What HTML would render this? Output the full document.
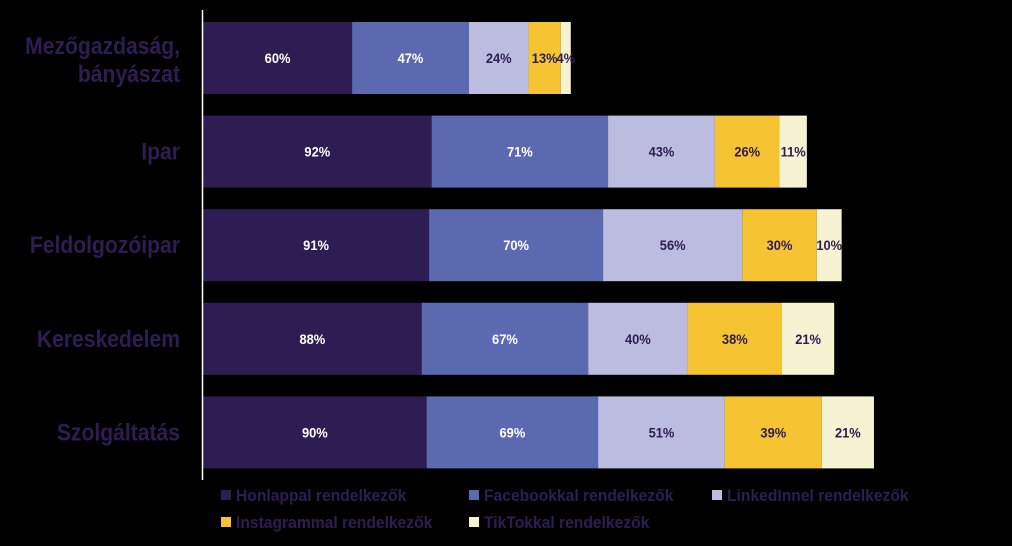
<!DOCTYPE html>
<html><head><meta charset="utf-8"><style>
html,body{margin:0;padding:0;background:#000;}
svg{display:block;font-family:"Liberation Sans",sans-serif;}
</style></head><body>
<svg id="chart" width="1012" height="546" viewBox="0 0 1012 546">
<rect width="1012" height="546" fill="#000"/>
<g id="bars"></g>
<line x1="202.5" y1="10" x2="202.5" y2="480" stroke="#fff" stroke-width="1.5"/>
<g id="legend"></g>
</svg>
<script>
const categories = [["Mezőgazdaság,","bányászat"],["Ipar"],["Feldolgozóipar"],["Kereskedelem"],["Szolgáltatás"]];
const seriesNames = ["Honlappal rendelkezők","Facebookkal rendelkezők","LinkedInnel rendelkezők","Instagrammal rendelkezők","TikTokkal rendelkezők"];
const honlap = [60,92,91,88,90];
const facebook = [47,71,70,67,69];
const linkedin = [24,43,56,40,51];
const instagram = [13,26,30,38,39];
const tiktok = [4,11,10,21,21];
const series = [honlap,facebook,linkedin,instagram,tiktok];
const colors = ["#2e1d52","#5b69b0","#bcbce0","#f6c433","#f5f3d2"];
const textColors = ["#fff","#fff","#2e1d52","#2e1d52","#2e1d52"];
const NS="http://www.w3.org/2000/svg";
const x0=203, pxPer=2.485;
const xs=v=>v*pxPer;
const yTop=i=>22+i*93.6, bh=72;
const g=document.getElementById('bars');
function el(t,a){const e=document.createElementNS(NS,t);for(const k in a)e.setAttribute(k,a[k]);return e;}
categories.forEach((cat,i)=>{
  let x=x0;
  const y=yTop(i);
  const lab=el('text',{x:0,y:0,'text-anchor':'end',fill:'#2e1d52','font-size':24,'font-weight':'bold',transform:`translate(180,0) scale(0.88,1)`});
  
  
  cat.forEach((line,j)=>{const ts=el('tspan',{x:0,y:(cat.length===1? y+bh/2+8 : y+bh/2-4+j*28)});ts.textContent=line;lab.appendChild(ts);});
  g.appendChild(lab);
  series.forEach((s,k)=>{
    const w=xs(s[i]);
    const r=el('rect',{x:x,y:y,width:w,height:bh,fill:colors[k]});
    
    
    g.appendChild(r);
    const t=el('text',{x:0,y:0,'text-anchor':'middle',fill:textColors[k],'font-size':14,'font-weight':'bold',transform:`translate(${x+w/2},${y+bh/2+5}) scale(0.92,1)`});
    
    
    t.textContent=s[i]+'%';
    g.appendChild(t);
    x+=w;
  });
});
const lg=document.getElementById('legend');
const lpos=[[221,495],[469,495],[712,495],[221,522],[469,522]];
seriesNames.forEach((n,k)=>{
  const [lx,ly]=lpos[k];
  const s=el('rect',{x:lx,y:ly-5,width:10,height:10,fill:colors[k]});
  
  
  lg.appendChild(s);
  const t=el('text',{x:0,y:0,fill:'#2e1d52','font-size':17,'font-weight':'bold',transform:`translate(${lx+15},${ly+6}) scale(0.92,1)`});
  
  
  t.textContent=n;
  lg.appendChild(t);
});
</script>
</body></html>
